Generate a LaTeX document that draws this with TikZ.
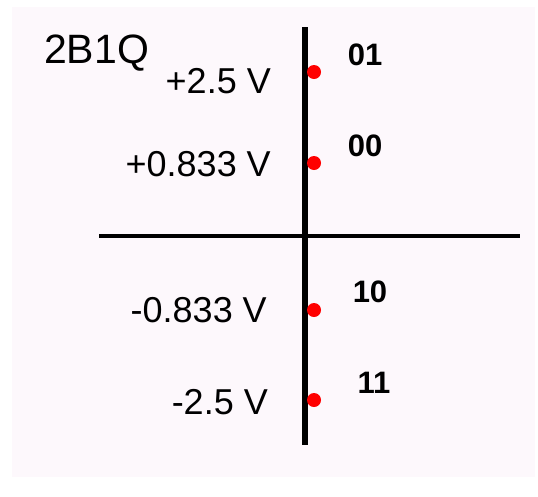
\documentclass[tikz,border=0pt]{standalone}
\usepackage{fontspec}
\setmainfont{Liberation Sans}
\usepackage{tikz}
\usetikzlibrary{positioning}
\definecolor{panel}{RGB}{253,248,252}

\begin{document}
\begin{tikzpicture}[
        x = 1pt, y = -1pt,
        title/.style = {font=\fontsize{41}{41}\selectfont, anchor=west, inner sep=0pt},
        level/.style = {font=\fontsize{36}{36}\selectfont, anchor=east, inner sep=0pt},
        code/.style  = {font=\fontsize{31}{31}\selectfont\bfseries, inner sep=0pt},
        dot/.style   = {circle, fill=red, minimum size=14pt, inner sep=0pt},
        axis/.style  = {line width=6pt},
    ]
        \useasboundingbox (0,0) rectangle (538,496);
        \fill[panel] (12,7) rectangle (535,477);

        % axes
        \coordinate (vtop) at (305,27);
        \coordinate (vbot) at (305,445);
        \coordinate (hleft) at (99,236);
        \coordinate (hright) at (520,236);
        \draw[axis] (vtop) -- (vbot);
        \draw[axis, line width=4.5pt] (hleft) -- (hright);

        \node[title] (name) at (44,53) {2B1Q};

        % signal levels
        \node[dot] (d01) at (314,72) {};
        \node[dot] (d00) at (314,163) {};
        \node[dot] (d10) at (314,310) {};
        \node[dot] (d11) at (314,400) {};

        \node[level] (v01) at (271,81) {+2.5 V};
        \node[level] (v00) at (271,164) {+0.833 V};
        \node[level] (v10) at (267,310) {-0.833 V};
        \node[level] (v11) at (268,402) {-2.5 V};

        \node[code] (c01) at (365,55) {01};
        \node[code] (c00) at (365,146) {00};
        \node[code] (c10) at (370,292) {10};
        \node[code] (c11) at (374,383) {11};
    \end{tikzpicture}
\end{document}
